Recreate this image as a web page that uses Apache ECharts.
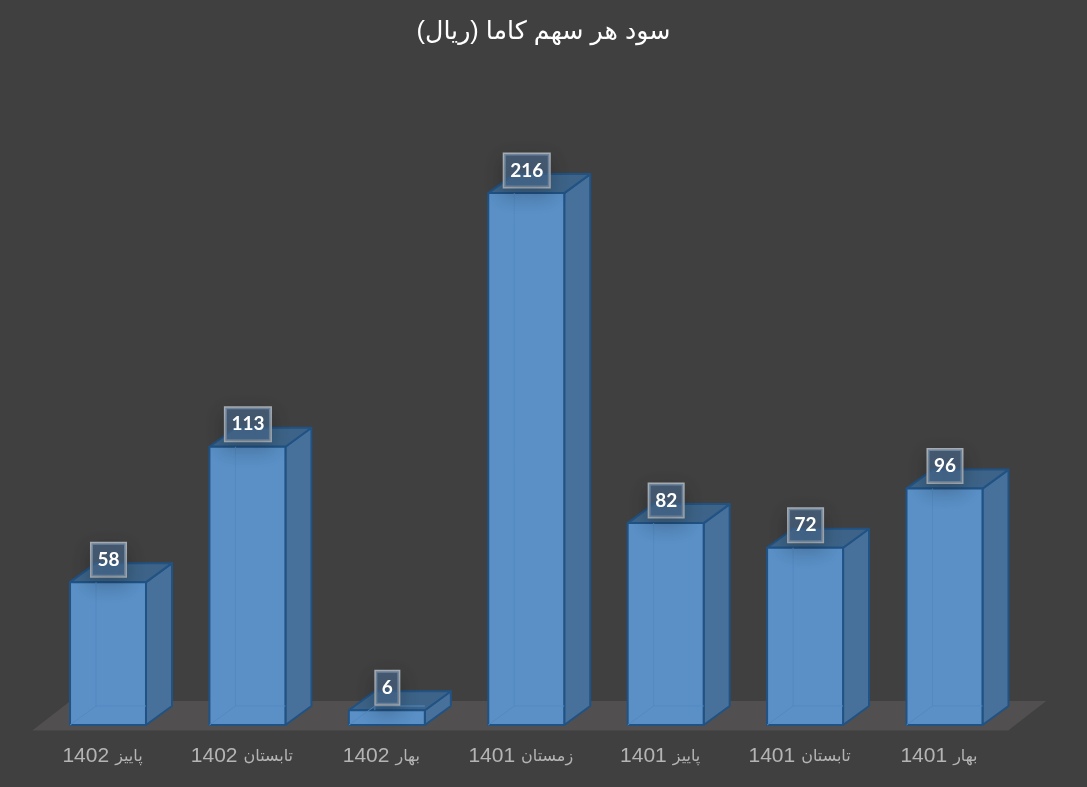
<!DOCTYPE html>
<html>
<head>
<meta charset="utf-8">
<style>html,body{margin:0;padding:0;background:#404040}#c{width:1087px;height:787px}</style>
<script src="https://cdn.jsdelivr.net/npm/echarts@6/dist/echarts.min.js"></script>
</head>
<body>
<div id="c"></div>
<script>
const titleText = 'سود هر سهم کاما (ریال)';
const categories = ['پاییز 1402','تابستان 1402','بهار 1402','زمستان 1401','پاییز 1401','تابستان 1401','بهار 1401'];
const values = [58,113,6,216,82,72,96];

const DEPTH_X = 26, DEPTH_Y = 19;
const BORDER = '#215284';
const chart = echarts.init(document.getElementById('c'), null, {renderer:'canvas'});

function renderFloor(params, api){
  const cs = params.coordSys;
  const base = cs.y + cs.height;
  return {type:'polygon', silent:true,
    shape:{points:[[cs.x-6,base+5.5],[cs.x+cs.width-6,base+5.5],[cs.x+cs.width+32,base-24],[cs.x+32,base-24]]},
    style:{fill:'#514f4f'}};
}
function renderBar(params, api){
  const top = api.coord([api.value(0), api.value(1)]);
  const bot = api.coord([api.value(0), 0]);
  const w = api.size([1,0])[0]*0.545;
  const l = top[0]-w/2, r = top[0]+w/2, t = top[1], b = bot[1];
  const dx = DEPTH_X, dy = DEPTH_Y;
  const line = {stroke:BORDER, lineWidth:2, lineJoin:'round'};
  const hidden = {stroke:'#5389c1', lineWidth:1};
  return {type:'group', children:[
    {type:'polygon', shape:{points:[[r,t],[r+dx,t-dy],[r+dx,b-dy],[r,b]]}, style:{fill:'#47719b',...line}},
    {type:'polygon', shape:{points:[[l,t],[l+dx,t-dy],[r+dx,t-dy],[r,t]]}, style:{fill:'#3d6488',...line}},
    {type:'rect', shape:{x:l,y:t,width:w,height:b-t}, style:{fill:'#5a90c6',...line}},
    {type:'line', shape:{x1:l+dx,y1:t,x2:l+dx,y2:b-dy}, style:hidden},
    {type:'line', shape:{x1:l+dx,y1:b-dy,x2:r,y2:b-dy}, style:hidden},
    {type:'line', shape:{x1:l,y1:b,x2:l+dx,y2:b-dy}, style:hidden},
    {type:'text', z2:50, x:top[0]+0.5, y:t-22.5, style:{
      text:String(api.value(1)), fill:'#ffffff', font:'bold 19px Lato',
      align:'center', verticalAlign:'middle',
      backgroundColor:'rgba(74,108,146,0.62)', borderColor:'#aab0b6', borderWidth:1.5,
      padding:[8,6,6,6], shadowColor:'rgba(0,0,0,0.3)', shadowBlur:18, shadowOffsetY:7
    }}
  ]};
}

chart.setOption({
  backgroundColor:'#404040',
  animation:false,
  title:{text:titleText,left:'center',top:15,
    textStyle:{color:'#ffffff',fontSize:25.3,fontWeight:'normal',fontFamily:'"Liberation Sans","DejaVu Sans",sans-serif'}},
  grid:{left:38.3,right:72.8,top:134,bottom:62},
  xAxis:{type:'category',data:categories,axisLine:{show:false},axisTick:{show:false},
    axisLabel:{interval:0,margin:21,
      formatter:(v)=>{const p=v.split(' ');return '{n|'+p[1]+'}{g|}{a|'+p[0]+'}{e|}';},
      rich:{
        n:{color:'#b4b4b4',fontSize:21,fontFamily:'"Liberation Sans"'},
        g:{width:6},
        a:{color:'#b4b4b4',fontSize:16,fontFamily:'"DejaVu Sans"'},
        e:{width:11}
      }}},
  yAxis:{type:'value',min:0,max:240,show:false,splitLine:{show:false}},
  series:[
    {type:'custom',name:'floor',silent:true,z:1,renderItem:renderFloor,data:[[0,0]],encode:{x:0,y:1}},
    {type:'custom',name:'سود هر سهم',z:2,renderItem:renderBar,encode:{x:0,y:1},
      data:values.map((v,i)=>[i,v])}
  ]
});
</script>
</body>
</html>
